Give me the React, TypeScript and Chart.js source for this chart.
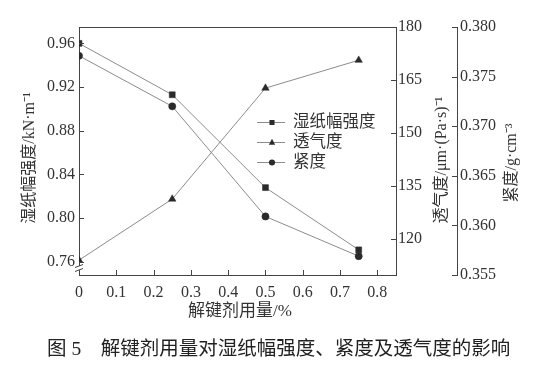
import React, { useEffect, useRef } from 'react';
import { Chart, registerables } from 'chart.js';

Chart.register(...registerables);

// ---- data ----
const dosage = [0, 0.25, 0.5, 0.75];
const wetStrength = [0.96, 0.913, 0.828, 0.771];
const permeability = [114, 131.3, 162.7, 170.6];
const density = [0.3771, 0.372, 0.3609, 0.3569];

const xTicks = [0, 0.1, 0.2, 0.3, 0.4, 0.5, 0.6, 0.7, 0.8];
const strengthTicks = [0.76, 0.8, 0.84, 0.88, 0.92, 0.96];
const permTicks = [120, 135, 150, 165, 180];
const densityTicks = [0.355, 0.36, 0.365, 0.37, 0.375, 0.38];

const seriesNames = ['湿纸幅强度', '透气度', '紧度'];
const xTitle = '解键剂用量/%';
const yTitle = '湿纸幅强度/kN·m⁻¹';
const y1Title = '透气度/μm·(Pa·s)⁻¹';
const y2Title = '紧度/g·cm⁻³';
const caption = '图 5\u3000解键剂用量对湿纸幅强度、紧度及透气度的影响';

// ---- styles ----
const FONT = "'Liberation Serif', 'Noto Sans CJK SC', serif";
const axisColor = '#444';
const textColor = '#333';
const lineColor = '#8c8c8c';
const markerColor = '#2a2a2a';
const pointStyles = ['rect', 'triangle', 'circle'];
const pointRadii = [4.2, 4.3, 3.6];

function drawMarker(ctx: CanvasRenderingContext2D, style: string, x: number, y: number, r: number) {
  ctx.beginPath();
  if (style === 'rect') {
    const s = r * Math.SQRT1_2;
    ctx.rect(x - s, y - s, 2 * s, 2 * s);
  } else if (style === 'triangle') {
    ctx.moveTo(x, y - r);
    ctx.lineTo(x + r * 0.866, y + r * 0.5 + 0.5);
    ctx.lineTo(x - r * 0.866, y + r * 0.5 + 0.5);
    ctx.closePath();
  } else {
    ctx.arc(x, y, r, 0, Math.PI * 2);
  }
  ctx.fill();
}

const decor = {
  id: 'decor',
  afterDraw(chart: any) {
    const ctx: CanvasRenderingContext2D = chart.ctx;
    const { x, y, y1, y2 } = chart.scales;
    const ca = chart.chartArea;
    const seg = (x0: number, y0: number, x1: number, yy1: number) => {
      ctx.beginPath();
      ctx.moveTo(x0, y0);
      ctx.lineTo(x1, yy1);
      ctx.stroke();
    };
    ctx.save();
    ctx.strokeStyle = axisColor;
    ctx.lineWidth = 1;
    // top frame
    seg(ca.left, Math.round(ca.top) + 0.5, ca.right, Math.round(ca.top) + 0.5);
    // inward ticks
    xTicks.forEach((v) => {
      const px = Math.round(x.getPixelForValue(v)) + 0.5;
      seg(px, ca.bottom, px, ca.bottom - 5);
    });
    strengthTicks.forEach((v) => {
      const py = Math.round(y.getPixelForValue(v)) + 0.5;
      seg(ca.left, py, ca.left + 5, py);
    });
    permTicks.forEach((v) => {
      const py = Math.round(y1.getPixelForValue(v)) + 0.5;
      seg(ca.right, py, ca.right - 5, py);
    });
    densityTicks.forEach((v) => {
      const py = Math.round(y2.getPixelForValue(v)) + 0.5;
      seg(y2.left, py, y2.left - 5, py);
    });
    // axis break on left axis
    const by = ca.bottom - 7;
    ctx.fillStyle = '#fff';
    ctx.fillRect(ca.left - 2, by - 2, 4, 4);
    seg(ca.left - 4, by - 0.5, ca.left + 4, by - 3.5);
    seg(ca.left - 4, by + 3.5, ca.left + 4, by + 0.5);

    // axis titles
    ctx.fillStyle = textColor;
    ctx.textAlign = 'center';
    ctx.textBaseline = 'middle';
    const vText = (t: string, cx: number, cy: number, size: number) => {
      ctx.save();
      ctx.font = `${size}px ${FONT}`;
      ctx.translate(cx, cy);
      ctx.rotate(-Math.PI / 2);
      ctx.fillText(t, 0, 0);
      ctx.restore();
    };
    vText(yTitle, 30, 158, 16);
    vText(y1Title, 442, 160, 16);
    vText(y2Title, 512, 163, 16);
    ctx.font = `17px ${FONT}`;
    ctx.fillText(xTitle, 240, 312);

    // legend
    const lx0 = 257, lx1 = 285, mx = 272, tx = 293;
    const ly = [122, 142, 162];
    ctx.font = `16.5px ${FONT}`;
    ctx.textAlign = 'left';
    seriesNames.forEach((name, i) => {
      ctx.strokeStyle = lineColor;
      seg(lx0, ly[i] + 0.5, lx1, ly[i] + 0.5);
      ctx.fillStyle = markerColor;
      drawMarker(ctx, pointStyles[i], mx, ly[i] + 0.5, pointRadii[i] * 0.85);
      ctx.fillStyle = textColor;
      ctx.fillText(name, tx, ly[i] + 1);
    });
    ctx.restore();
  },
};

function makeTicks(vals: number[]) {
  return (s: any) => {
    s.ticks = vals.map((v) => ({ value: v }));
  };
}

export default function App() {
  const ref = useRef<HTMLCanvasElement>(null);
  useEffect(() => {
    if (!ref.current) return;
    const tickFont = { family: FONT, size: 16 };
    const mk = (vals: number[], i: number, axis: string) => ({
      label: seriesNames[i],
      data: dosage.map((d, k) => ({ x: d, y: vals[k] })),
      yAxisID: axis,
      borderColor: lineColor,
      borderWidth: 1,
      backgroundColor: markerColor,
      pointBackgroundColor: markerColor,
      pointBorderColor: markerColor,
      pointBorderWidth: 0.5,
      pointStyle: pointStyles[i],
      pointRadius: pointRadii[i],
      tension: 0,
    });
    const chart = new Chart(ref.current, {
      type: 'line',
      data: {
        datasets: [
          mk(wetStrength, 0, 'y'),
          mk(permeability, 1, 'y1'),
          mk(density, 2, 'y2'),
        ] as any,
      },
      options: {
        responsive: false,
        animation: false,
        devicePixelRatio: 1,
        layout: { padding: { top: 27, left: 0, right: 0, bottom: 0 } },
        plugins: { legend: { display: false }, tooltip: { enabled: false } },
        scales: {
          x: {
            type: 'linear',
            min: 0,
            max: 0.85,
            afterBuildTicks: makeTicks(xTicks),
            afterFit: (s: any) => { s.height = 90; },
            grid: { display: false, drawTicks: false },
            border: { display: true, color: axisColor },
            ticks: {
              font: tickFont,
              color: textColor,
              padding: 8,
              maxRotation: 0,
              autoSkip: false,
              callback: (v: any) => String(Number(v)),
            },
          },
          y: {
            type: 'linear',
            position: 'left',
            min: 0.748,
            max: 0.975,
            afterBuildTicks: makeTicks(strengthTicks),
            afterFit: (s: any) => { s.width = 79; },
            grid: { display: false, drawTicks: false },
            border: { display: true, color: axisColor },
            ticks: {
              font: tickFont,
              color: textColor,
              padding: 4,
              autoSkip: false,
              callback: (v: any) => Number(v).toFixed(2),
            },
          },
          y1: {
            type: 'linear',
            position: 'right',
            weight: 0,
            min: 109.8,
            max: 180,
            afterBuildTicks: makeTicks(permTicks),
            afterFit: (s: any) => { s.width = 61; },
            grid: { display: false, drawTicks: false },
            border: { display: true, color: axisColor },
            ticks: {
              font: tickFont,
              color: textColor,
              padding: 2,
              autoSkip: false,
              callback: (v: any) => String(Math.round(Number(v))),
            },
          },
          y2: {
            type: 'linear',
            position: 'right',
            weight: 1,
            min: 0.355,
            max: 0.38,
            afterBuildTicks: makeTicks(densityTicks),
            afterFit: (s: any) => { s.width = 87; },
            grid: { display: false, drawTicks: false },
            border: { display: true, color: axisColor },
            ticks: {
              font: tickFont,
              color: textColor,
              padding: 3,
              autoSkip: false,
              callback: (v: any) => Number(v).toFixed(3),
            },
          },
        },
      } as any,
      plugins: [decor],
    });
    return () => chart.destroy();
  }, []);

  return (
    <div style={{ position: 'fixed', left: 0, top: 0, width: 544, height: 365, background: '#fff' }}>
      <canvas ref={ref} width={544} height={365} style={{ position: 'absolute', left: 0, top: 0, display: 'block' }} />
      <div
        style={{
          position: 'absolute',
          left: 47,
          top: 337,
          fontFamily: FONT,
          fontSize: 19.5,
          lineHeight: '24px',
          whiteSpace: 'nowrap',
          color: '#222',
        }}
      >
        {caption}
      </div>
    </div>
  );
}
